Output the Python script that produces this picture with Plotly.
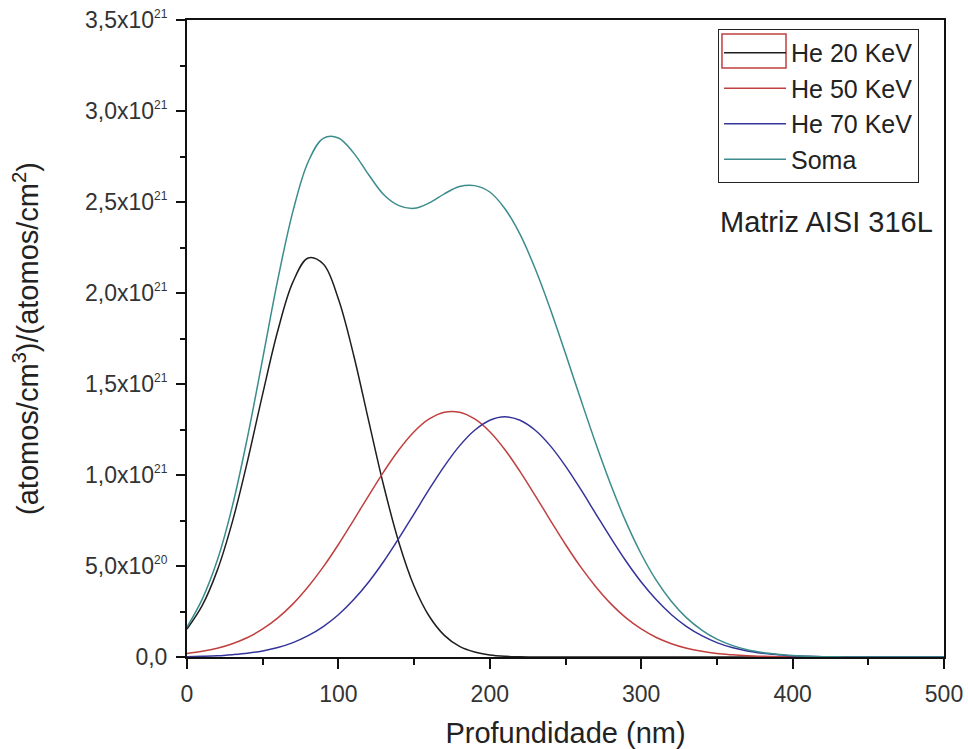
import plotly.graph_objects as go

# Depth (nm)
depth = [0, 10, 20, 30, 40, 50, 60, 70, 80, 90,
         100, 110, 120, 130, 140, 150, 160, 170, 180, 190,
         200, 210, 220, 230, 240, 250, 260, 270, 280, 290,
         300, 310, 320, 330, 340, 350, 360, 370, 380, 390,
         400, 410, 420, 430, 440, 450, 460, 470, 480, 490, 500]

# Concentrations in units of 1e21 (atomos/cm3)/(atomos/cm2)
he20 = [0.154, 0.282, 0.476, 0.744, 1.078, 1.446, 1.794, 2.061, 2.192, 2.159,
        1.967, 1.661, 1.297, 0.938, 0.628, 0.389, 0.224, 0.119, 0.058, 0.027,
        0.011, 0.004, 0.0015, 0, 0, 0, 0, 0, 0, 0,
        0, 0, 0, 0, 0, 0, 0, 0, 0, 0,
        0, 0, 0, 0, 0, 0, 0, 0, 0, 0, 0]

he50 = [0.019, 0.031, 0.048, 0.073, 0.107, 0.154, 0.215, 0.292, 0.386, 0.495,
        0.618, 0.751, 0.887, 1.019, 1.139, 1.238, 1.308, 1.345, 1.345, 1.308,
        1.238, 1.139, 1.019, 0.887, 0.751, 0.618, 0.495, 0.386, 0.292, 0.215,
        0.154, 0.107, 0.073, 0.048, 0.031, 0.019, 0.012, 0.007, 0.004, 0.002,
        0.001, 0, 0, 0, 0, 0, 0, 0, 0, 0, 0]

he70 = [0.002, 0.004, 0.007, 0.013, 0.021, 0.033, 0.052, 0.079, 0.117, 0.167,
        0.232, 0.314, 0.412, 0.526, 0.653, 0.787, 0.922, 1.049, 1.160, 1.246,
        1.301, 1.320, 1.301, 1.246, 1.160, 1.049, 0.922, 0.787, 0.653, 0.526,
        0.412, 0.314, 0.232, 0.167, 0.117, 0.079, 0.052, 0.033, 0.021, 0.013,
        0.007, 0.004, 0.002, 0.001, 0, 0, 0, 0, 0, 0, 0]

soma = [0.165, 0.317, 0.531, 0.830, 1.210, 1.640, 2.075, 2.450, 2.720, 2.850,
        2.852, 2.770, 2.650, 2.540, 2.480, 2.465, 2.495, 2.545, 2.585, 2.590,
        2.555, 2.463, 2.322, 2.133, 1.911, 1.667, 1.417, 1.173, 0.945, 0.741,
        0.566, 0.421, 0.305, 0.215, 0.148, 0.098, 0.064, 0.040, 0.025, 0.015,
        0.008, 0.004, 0.002, 0.001, 0, 0, 0, 0, 0, 0, 0]

series_names = ["He 20 KeV", "He 50 KeV", "He 70 KeV", "Soma"]
series_colors = ["#1e1e1e", "#c0403f", "#34349a", "#3c8c8c"]

y_tickvals = [0, 0.5, 1.0, 1.5, 2.0, 2.5, 3.0, 3.5]
y_ticklabels = ["0,0", "5,0x10<sup><span style='font-size:12px'>20</span></sup>",
                "1,0x10<sup><span style='font-size:12px'>21</span></sup>",
                "1,5x10<sup><span style='font-size:12px'>21</span></sup>",
                "2,0x10<sup><span style='font-size:12px'>21</span></sup>",
                "2,5x10<sup><span style='font-size:12px'>21</span></sup>",
                "3,0x10<sup><span style='font-size:12px'>21</span></sup>",
                "3,5x10<sup><span style='font-size:12px'>21</span></sup>"]
x_tickvals = [0, 100, 200, 300, 400, 500]

FONT = "Liberation Sans, Arial, sans-serif"

fig = go.Figure()
for name, ys, col in zip(series_names, [he20, he50, he70, soma], series_colors):
    fig.add_trace(go.Scatter(x=depth, y=ys, mode="lines", name=name,
                             legendgroup=name,
                             line=dict(color=col, width=1.5, shape="spline")))

fig.update_layout(
    width=968, height=749,
    margin=dict(l=187, r=24, t=20, b=92, autoexpand=False),
    paper_bgcolor="white", plot_bgcolor="white",
    font=dict(family=FONT, color="#222222"),
    showlegend=True,
    legend=dict(x=0.7015, y=0.986, xanchor="left", yanchor="top",
                bgcolor="rgba(255,255,255,0)", bordercolor="#222222", borderwidth=1,
                font=dict(size=25, family=FONT, color="#222222"),
                traceorder="grouped", tracegroupgap=0, itemwidth=62),
    xaxis=dict(range=[0, 500], tickvals=x_tickvals, ticks="outside", ticklen=10,
               tickwidth=2, tickcolor="#111111", showline=True, linewidth=2,
               linecolor="#111111", mirror=True, showgrid=False, zeroline=False,
               automargin=False,
               tickfont=dict(size=23, family=FONT, color="#333333"),
               ticklabelstandoff=5,
               minor=dict(dtick=50, tick0=0, ticks="outside", ticklen=6,
                          tickwidth=2, tickcolor="#111111"),
               title=dict(text="Profundidade (nm)", standoff=19,
                          font=dict(size=29, family=FONT, color="#222222"))),
    yaxis=dict(range=[0, 3.5], tickvals=y_tickvals, ticktext=y_ticklabels,
               ticks="outside", ticklen=9, tickwidth=2, tickcolor="#111111",
               showline=True, linewidth=2, linecolor="#111111", mirror=True,
               showgrid=False, zeroline=False, automargin=False,
               tickfont=dict(size=23, family=FONT, color="#333333"),
               ticklabelstandoff=4,
               minor=dict(dtick=0.25, tick0=0, ticks="outside", ticklen=5,
                          tickwidth=2, tickcolor="#111111"),
               title=dict(text="(atomos/cm<sup>3</sup>)/(atomos/cm<sup>2</sup>)",
                          standoff=38,
                          font=dict(size=29, family=FONT, color="#222222"))),
)

fig.add_annotation(text="Matriz AISI 316L", xref="paper", yref="paper",
                   x=0.7015, y=0.683, xanchor="left", yanchor="middle",
                   showarrow=False,
                   font=dict(size=29, family=FONT, color="#222222"))

# red highlight box around the first legend symbol (as in the reference)
fig.add_shape(type="rect", xref="paper", yref="paper",
              x0=0.7067, x1=0.7913, y0=0.9247, y1=0.978,
              line=dict(color="#c0403f", width=1.5), fillcolor="rgba(0,0,0,0)")

fig.write_html("out.html")
